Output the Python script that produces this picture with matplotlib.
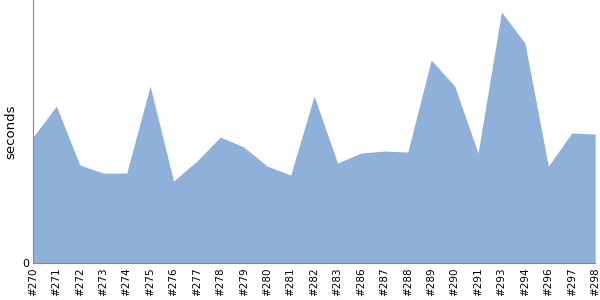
import numpy as np
import matplotlib
matplotlib.use("Agg")
import matplotlib.pyplot as plt

builds = ["#270", "#271", "#272", "#273", "#274", "#275", "#276", "#277", "#278",
          "#279", "#280", "#281", "#282", "#283", "#286", "#287", "#288", "#289",
          "#290", "#291", "#293", "#294", "#296", "#297", "#298"]
durations = [126, 157, 98, 90, 90, 177, 82, 102, 126, 116, 97, 88, 167, 100,
             110, 112, 111, 203, 177, 110, 251, 220, 97, 130, 129]

fig = plt.figure(figsize=(6, 3), dpi=100)
ax = fig.add_axes([0.055, 0.123, 0.937, 0.877])

x = np.arange(len(builds))
ax.fill_between(x, durations, 0, color="#8fb1d9", linewidth=0)
ax.set_xlim(0, len(builds) - 1)
ax.set_ylim(0, 263)

ax.set_xticks(x)
ax.set_xticklabels(builds, rotation=90, fontsize=7.5)
ax.set_yticks([0])
ax.set_yticklabels(["0"], fontsize=8)
ax.tick_params(length=0, pad=3)
ax.set_ylabel("seconds", fontsize=9.5, labelpad=3)

for side in ["top", "right"]:
    ax.spines[side].set_visible(False)
for side in ["left", "bottom"]:
    ax.spines[side].set_color("#888888")

fig.savefig("out.png", dpi=100)
